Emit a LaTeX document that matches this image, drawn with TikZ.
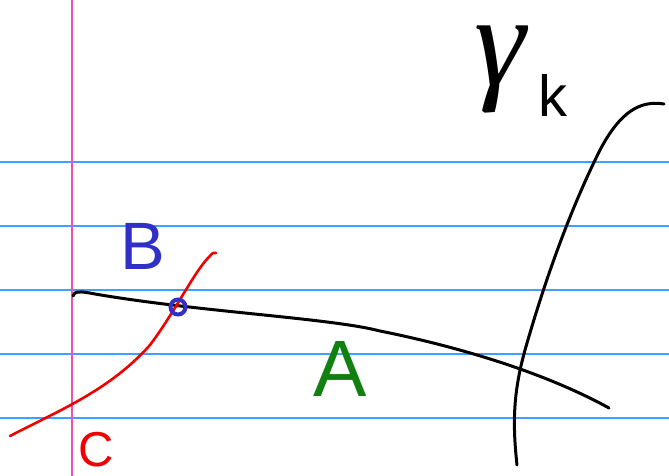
\documentclass[tikz,border=0pt]{standalone}
\usepackage{fontspec}
\setmainfont{Liberation Sans}
\newfontfamily\gfont{Liberation Serif}
\definecolor{ruleblue}{HTML}{3FA0FF}
\definecolor{marginpink}{HTML}{F050B0}
\definecolor{penred}{HTML}{F00000}
\definecolor{penblue}{HTML}{3030C8}
\definecolor{pengreen}{HTML}{108010}
\begin{document}
\begin{tikzpicture}[x=1pt,y=-1pt,
  rule/.style={ruleblue,line width=1.3pt},
  ink/.style={line width=3pt,line cap=round,line join=round},
  lbl/.style={inner sep=0pt,anchor=center}]
\useasboundingbox (0,0) rectangle (669,476);
\fill[white] (0,0) rectangle (669,476);
% ruled lines
\foreach \yy in {162,226,290,354,418} \draw[rule] (0,\yy) -- (669,\yy);
\draw[marginpink,line width=1.3pt] (72,0) -- (72,476);
% curve A (black)
\draw[ink,black] (73,296) .. controls (74,291) and (80,291) .. (95,294)
  .. controls (200,312) and (330,318) .. (380,331)
  .. controls (450,345) and (540,370) .. (609,408);
% curve C (red)
\draw[ink,penred,line width=2.6pt] (10,436) .. controls (60,410) and (110,390) .. (150,345)
  .. controls (175,312) and (195,270) .. (210,256) .. controls (212,253) and (214,252) .. (216,253);
% curve gamma_k (black)
\draw[ink,black] (517,465) .. controls (512,420) and (514,390) .. (525,350)
  .. controls (545,280) and (570,210) .. (600,150)
  .. controls (620,112) and (640,100) .. (664,104);
% point B
\draw[penblue,line width=4pt] (178,307) circle (7.5);
\fill[penred] (177,306) circle (1.8);
% labels
\node[lbl,penblue,font=\fontsize{67}{67}\selectfont] (B) at (143,246) {B};
\node[lbl,pengreen,font=\fontsize{80}{80}\selectfont] (A) at (340,369) {A};
\node[inner sep=0pt,anchor=base,text height=35pt,text depth=0pt,penred,font=\fontsize{49}{49}\selectfont] (C) at (96,466) {C};
\node[inner sep=0pt,anchor=base,text height=0.5em,text depth=0.22em,black,font=\gfont\itshape\fontsize{130}{130}\selectfont] (G) at (500,86) {γ};
\node[inner sep=0pt,anchor=base,black,font=\fontsize{58}{58}\selectfont] (K) at (553,117) {k};
\end{tikzpicture}
\end{document}
